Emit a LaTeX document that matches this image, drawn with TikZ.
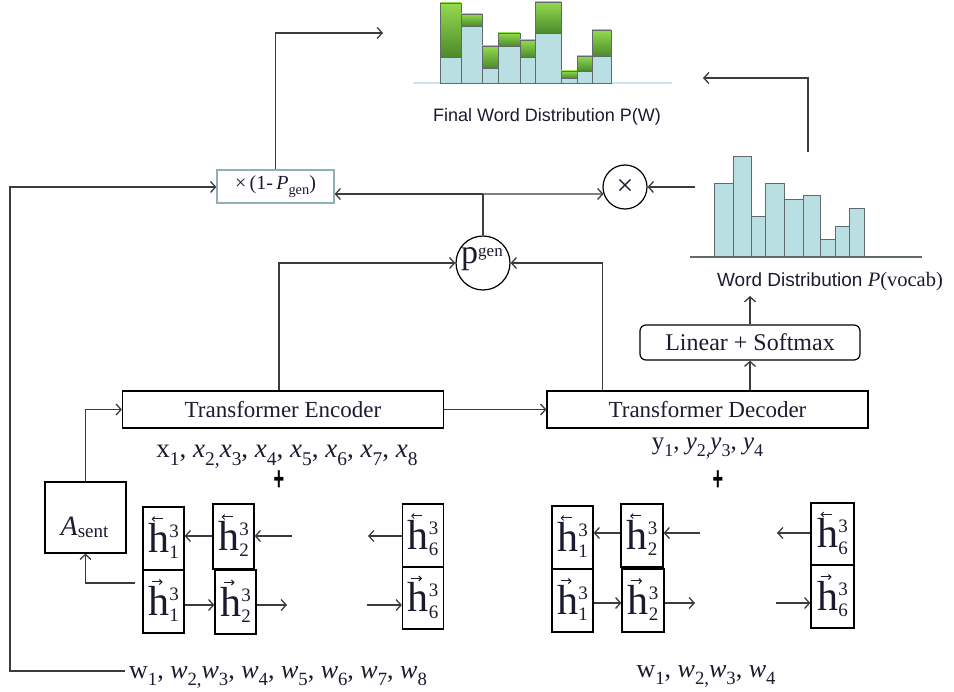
\documentclass[tikz,border=0pt]{standalone}
\usepackage{amsmath}
\usepackage{fontspec}
\setmainfont{Liberation Serif}
\setsansfont{Liberation Sans}
\usetikzlibrary{arrows.meta,calc}
\definecolor{barblue}{HTML}{BADFE2}
\definecolor{barline}{HTML}{606A6C}
\definecolor{glight}{HTML}{94DA50}
\definecolor{gdark}{HTML}{4B8B2B}
\definecolor{linecol}{HTML}{3C3C3C}
\definecolor{boxteal}{HTML}{8FB0B6}
\definecolor{txt}{HTML}{1B1B30}
\definecolor{baseteal}{HTML}{CBE6E8}
\newcommand\lsub[1]{\raisebox{-0.28em}{\scalebox{0.72}{#1}}}
\newcommand\hlab[1]{{\fontsize{42}{42}\selectfont h}\rlap{\raisebox{15pt}{\fontsize{19}{19}\selectfont 3}}\raisebox{-6pt}{\fontsize{19}{19}\selectfont #1}}
\begin{document}
\begin{tikzpicture}[x=1pt,y=-1pt,
 conn/.style={draw=linecol,line width=1.3pt,-{Straight Barb[length=5pt,width=11pt,line width=1.3pt]}},
 plain/.style={draw=linecol,line width=1.3pt},
 accent/.style={draw=txt,line width=1pt,-{Straight Barb[length=2.5pt,width=5pt,line width=1pt]}},
 tbox/.style={draw=black,line width=1.2pt,inner sep=0pt,font=\fontsize{23}{28}\selectfont,text=txt},
 hbox/.style={draw=black,line width=1.2pt,inner sep=0pt,minimum width=41pt,text=txt,text height=36pt,text depth=8pt},
 seq/.style={inner sep=0pt,anchor=base,text=txt},
 lbl/.style={inner sep=0pt,anchor=base,text=txt},
 blubar/.style={fill=barblue,draw=barline,line width=0.8pt},
 grnbar/.style={top color=glight,bottom color=gdark,draw=barline,line width=0.8pt},
 plus/.style={inner sep=0pt,font=\fontsize{26}{26}\selectfont\sffamily\bfseries,text=black}
 ]
\useasboundingbox (0,0) rectangle (954,692);

% ---------- top chart: final word distribution ----------
\draw[baseteal,line width=2pt] (413,83) -- (672,83);
\foreach \a/\b/\c/\d in {440/461/57/3,461/482/26/14,482/498/68/46,498/520/46/33,520/535/57/40,535/561/33/2,561/577/78/71,577/592/71/56,592/611/56/30}{
  \path[blubar] (\a,83) rectangle (\b,\c);
  \path[grnbar] (\a,\c) rectangle (\b,\d);
}
\node[lbl,font=\fontsize{18}{22}\selectfont\sffamily] (fwd) at (547,122) {Final Word Distribution P(W)};

% ---------- right chart: word distribution ----------
\foreach \a/\b/\c in {714/733/183,733/751/156,751/765/216,765/784/183,784/803/199,803/820/195,820/835/239,835/849/226,849/864/208}{
  \path[blubar] (\a,257) rectangle (\b,\c);
}
\draw[barline,line width=1.2pt] (690,257) -- (922,257);
\node[lbl,font=\fontsize{19}{22}\selectfont\sffamily] (wdl) at (830,287) {Word Distribution {\rmfamily\fontsize{20.5}{22}\selectfont\textit{P}(vocab)}};

% ---------- main nodes ----------
\node[tbox,minimum width=321pt,minimum height=37pt] (enc) at (283,409.5) {Transformer Encoder};
\node[tbox,minimum width=321pt,minimum height=37pt] (dec) at (707.5,409.5) {Transformer Decoder};
\node[tbox,rounded corners=6pt,minimum width=220pt,minimum height=35pt,font=\fontsize{24}{28}\selectfont] (lin) at (750,342.5) {Linear + Softmax};
\node[draw=boxteal,line width=1.2pt,minimum width=117pt,minimum height=33pt,inner sep=0pt,text=txt,font=\fontsize{20}{22}\selectfont] (omp) at (275.5,186.5) {×\,(1-\,\textit{P}\lsub{gen})};
\node[circle,draw=black,line width=1.2pt,minimum size=54pt,inner sep=0pt] (pg) at (483,263) {};
\node[lbl] (pgt) at (482,264) {\fontsize{34}{34}\selectfont p\raisebox{7pt}{\fontsize{17}{17}\selectfont gen}};
\node[circle,draw=black,line width=1.2pt,minimum size=44pt,inner sep=0pt,text=txt,font=\fontsize{30}{30}\selectfont] (tm) at (625,187) {×};
\node[draw=black,line width=1.2pt,minimum width=81pt,minimum height=71pt,inner sep=0pt] (as) at (85.5,517.5) {};
\node[lbl] (ast) at (84.5,536) {\fontsize{28}{30}\selectfont\textit{A}\raisebox{-2pt}{\fontsize{19}{22}\selectfont sent}};

% ---------- sequences ----------
\node[seq,font=\fontsize{27}{30}\selectfont] (xs) at (287,458) {x\lsub{1}, \textit{x}\lsub{2,}\textit{x}\lsub{3}, \textit{x}\lsub{4}, \textit{x}\lsub{5}, \textit{x}\lsub{6}, \textit{x}\lsub{7}, \textit{x}\lsub{8}};
\node[seq,font=\fontsize{25}{30}\selectfont] (ys) at (707.5,450) {y\lsub{1}, \textit{y}\lsub{2,}\textit{y}\lsub{3}, \textit{y}\lsub{4}};
\node[seq,font=\fontsize{26}{30}\selectfont] (wl) at (278,678) {w\lsub{1}, \textit{w}\lsub{2,}\textit{w}\lsub{3}, \textit{w}\lsub{4}, \textit{w}\lsub{5}, \textit{w}\lsub{6}, \textit{w}\lsub{7}, \textit{w}\lsub{8}};
\node[seq,font=\fontsize{26}{30}\selectfont] (wr) at (706,677) {w\lsub{1}, \textit{w}\lsub{2,}\textit{w}\lsub{3}, \textit{w}\lsub{4}};
\node[plus] (p1) at (279,481) {\scalebox{0.7}[1.3]{+}};
\node[plus] (p2) at (718,481) {\scalebox{0.7}[1.3]{+}};

% ---------- hidden state boxes (left) ----------
\node[hbox,minimum height=63pt] (hb1) at (163.5,538.5) {\hlab{1}};
\node[hbox,minimum height=63pt] (hf1) at (163.5,601.5) {\hlab{1}};
\node[hbox,minimum height=65pt] (hb2) at (233.5,536.5) {\hlab{2}};
\node[hbox,minimum height=64pt] (hf2) at (235.5,602) {\hlab{2}};
\node[hbox,minimum height=63pt] (hb6) at (423,535.5) {\hlab{6}};
\node[hbox,minimum height=62pt] (hf6) at (423,598) {\hlab{6}};
% ---------- hidden state boxes (right) ----------
\node[hbox,minimum height=63pt] (rb1) at (572.5,537.5) {\hlab{1}};
\node[hbox,minimum height=63pt] (rf1) at (572.5,600.5) {\hlab{1}};
\node[hbox,minimum width=42pt,minimum height=63pt] (rb2) at (642,535.5) {\hlab{2}};
\node[hbox,minimum width=42pt,minimum height=63pt] (rf2) at (643,600.5) {\hlab{2}};
\node[hbox,minimum width=43pt,minimum height=62pt] (rb6) at (832.5,534) {\hlab{6}};
\node[hbox,minimum width=43pt,minimum height=63pt] (rf6) at (832.5,596.5) {\hlab{6}};

% vector accents over h
\foreach \n in {hb1,hb2,hb6,rb1,rb2,rb6}
  \draw[accent] ($(\n.center)+(-1,-19.5)$) -- ++(-11,0);
\foreach \n in {hf1,hf2,hf6,rf1,rf2,rf6}
  \draw[accent] ($(\n.center)+(-12,-19.5)$) -- ++(11,0);

% ---------- connectors ----------
\coordinate (jn) at (483,194);
\draw[plain] (pg.north) -- (jn);
\draw[conn] (jn) -- (jn -| omp.east);
\draw[conn] (jn) -- (tm.198);
\draw[conn] ([xshift=-4pt]enc.north) |- (pg.west);
\draw[conn] ([xshift=56pt]dec.north west) |- (pg.east);
\draw[conn] (enc.east) -- (dec.west);
\draw[conn] (lin.south |- dec.north) -- (lin.south);
\coordinate (wd) at (750,296);
\draw[conn] (lin.north) -- (wd);
\coordinate (rin) at (695,187);
\draw[conn] (rin) -- (tm.east);
\coordinate (ru) at (808,152);
\coordinate (rt) at (703,78);
\draw[conn] (ru) |- (rt);
\coordinate (tl) at (383,33);
\draw[conn] (omp.north) |- (tl);
\draw[conn] (as.north) |- (enc.west);
\coordinate (ain) at (135,583);
\draw[conn] (ain) -| (as.south);
\coordinate (llb) at (10,671);
\coordinate (llt) at (10,187);
\draw[conn] ([xshift=-4pt]wl.west |- llb) -- (llb) -- (llt) -- (llt -| omp.west);

% left rows
\coordinate (lb1) at (292,536);
\coordinate (lb2) at (368,536);
\draw[conn] (lb1) -- (lb1 -| hb2.east);
\draw[conn] (hb2.west |- lb1) -- (lb1 -| hb1.east);
\draw[conn] (hb6.west |- lb2) -- (lb2);
\coordinate (lf1) at (287,605);
\coordinate (lf2) at (367,605);
\draw[conn] (hf1.east |- lf1) -- (lf1 -| hf2.west);
\draw[conn] (hf2.east |- lf1) -- (lf1);
\draw[conn] (lf2) -- (lf2 -| hf6.west);
% right rows
\coordinate (rb1c) at (700,533);
\coordinate (rb2c) at (777,533);
\draw[conn] (rb1c) -- (rb1c -| rb2.east);
\draw[conn] (rb2.west |- rb1c) -- (rb1c -| rb1.east);
\draw[conn] (rb6.west |- rb2c) -- (rb2c);
\coordinate (rf1c) at (695,603);
\coordinate (rf2c) at (776,603);
\draw[conn] (rf1.east |- rf1c) -- (rf1c -| rf2.west);
\draw[conn] (rf2.east |- rf1c) -- (rf1c);
\draw[conn] (rf2c) -- (rf2c -| rf6.west);
\end{tikzpicture}
\end{document}
